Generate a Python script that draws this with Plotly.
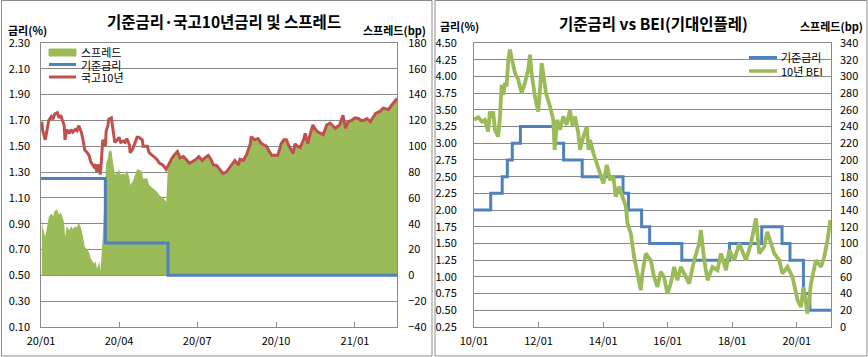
import plotly.graph_objects as go

W, H = 868, 357

# ---------------- Left chart data ----------------
ktb_dates = [
    "2020-01-02", "2020-01-03", "2020-01-06", "2020-01-08", "2020-01-10", "2020-01-13", "2020-01-15",
    "2020-01-17", "2020-01-20", "2020-01-22", "2020-01-24", "2020-01-28", "2020-01-29", "2020-01-31",
    "2020-02-03", "2020-02-05", "2020-02-07", "2020-02-10", "2020-02-12", "2020-02-14", "2020-02-17",
    "2020-02-19", "2020-02-21", "2020-02-24", "2020-02-26", "2020-02-28", "2020-03-03", "2020-03-05",
    "2020-03-06", "2020-03-09", "2020-03-10", "2020-03-11", "2020-03-12", "2020-03-13", "2020-03-16",
    "2020-03-17", "2020-03-19", "2020-03-20", "2020-03-23", "2020-03-25", "2020-03-27", "2020-03-30",
    "2020-04-01", "2020-04-03", "2020-04-06", "2020-04-08", "2020-04-10", "2020-04-13", "2020-04-14",
    "2020-04-17", "2020-04-20", "2020-04-22", "2020-04-24", "2020-04-28", "2020-04-29", "2020-05-04",
    "2020-05-06", "2020-05-11", "2020-05-15", "2020-05-18", "2020-05-22", "2020-05-26", "2020-05-28",
    "2020-06-01", "2020-06-04", "2020-06-08", "2020-06-11", "2020-06-15", "2020-06-18", "2020-06-22",
    "2020-06-25", "2020-06-30", "2020-07-03", "2020-07-07", "2020-07-10", "2020-07-14", "2020-07-17",
    "2020-07-20", "2020-07-24", "2020-07-28", "2020-07-31", "2020-08-04", "2020-08-07", "2020-08-12",
    "2020-08-14", "2020-08-18", "2020-08-20", "2020-08-24", "2020-08-28", "2020-09-01", "2020-09-02",
    "2020-09-06", "2020-09-10", "2020-09-14", "2020-09-17", "2020-09-20", "2020-09-23", "2020-09-26",
    "2020-10-03", "2020-10-07", "2020-10-10", "2020-10-13", "2020-10-17", "2020-10-21", "2020-10-23",
    "2020-10-26", "2020-10-29", "2020-11-02", "2020-11-04", "2020-11-07", "2020-11-10", "2020-11-13",
    "2020-11-16", "2020-11-19", "2020-11-25", "2020-11-29", "2020-12-03", "2020-12-06", "2020-12-09",
    "2020-12-14", "2020-12-18", "2020-12-21", "2020-12-24", "2020-12-28", "2021-01-01", "2021-01-05",
    "2021-01-08", "2021-01-11", "2021-01-15", "2021-01-19", "2021-01-22", "2021-01-25", "2021-01-30",
    "2021-02-03", "2021-02-06", "2021-02-09", "2021-02-13", "2021-02-17", "2021-02-19",
]
ktb10y = [
    1.69, 1.62, 1.55, 1.62, 1.70, 1.73, 1.71,
    1.75, 1.76, 1.72, 1.74, 1.66, 1.55, 1.63,
    1.60, 1.63, 1.61, 1.63, 1.62, 1.66, 1.61,
    1.55, 1.47, 1.45, 1.43, 1.38, 1.34, 1.36,
    1.30, 1.36, 1.28, 1.35, 1.45, 1.55, 1.50,
    1.62, 1.66, 1.71, 1.72, 1.62, 1.53, 1.55,
    1.57, 1.53, 1.54, 1.53, 1.56, 1.51, 1.45,
    1.48, 1.53, 1.57, 1.57, 1.55, 1.50, 1.50,
    1.45, 1.42, 1.40, 1.37, 1.355, 1.32, 1.35,
    1.40, 1.43, 1.46, 1.41, 1.42, 1.40, 1.37,
    1.38, 1.40, 1.42, 1.39, 1.41, 1.43, 1.40,
    1.355, 1.35, 1.32, 1.29, 1.30, 1.33, 1.37,
    1.39, 1.355, 1.40, 1.39, 1.44, 1.52, 1.575,
    1.55, 1.56, 1.52, 1.51, 1.50, 1.46, 1.43,
    1.43, 1.52, 1.55, 1.55, 1.49, 1.445, 1.52,
    1.50, 1.49, 1.55, 1.60, 1.52, 1.60, 1.665,
    1.63, 1.61, 1.59, 1.665, 1.68, 1.66, 1.64,
    1.665, 1.74, 1.64, 1.69, 1.70, 1.72, 1.715,
    1.70, 1.70, 1.715, 1.69, 1.72, 1.755, 1.77,
    1.795, 1.79, 1.785, 1.82, 1.85, 1.87,
]
base_change_dates_l = ["2020-01-01", "2020-03-16", "2020-05-28"]
base_levels_l = [1.25, 0.75, 0.50]
left_end = "2021-02-19"

# spread (bp) = 10Y yield - base rate on each date
def base_on(d, dates, levels):
    lvl = levels[0]
    for cd, lv in zip(dates, levels):
        if d >= cd:
            lvl = lv
    return lvl

spread_bp = [round((v - base_on(d, base_change_dates_l, base_levels_l)) * 100, 1)
             for d, v in zip(ktb_dates, ktb10y)]

# ---------------- Right chart data ----------------
base_change_dates_r = [
    "2010-01-01", "2010-07-09", "2010-11-16", "2011-01-13", "2011-03-10", "2011-06-10",
    "2012-07-12", "2012-10-11", "2013-05-09", "2014-08-14", "2014-10-15", "2015-03-12",
    "2015-06-11", "2016-06-09", "2017-11-30", "2018-11-30", "2019-07-18", "2019-10-16",
    "2020-03-16", "2020-05-28",
]
base_levels_r = [2.00, 2.25, 2.50, 2.75, 3.00, 3.25, 3.00, 2.75, 2.50, 2.25, 2.00, 1.75,
                 1.50, 1.25, 1.50, 1.75, 1.50, 1.25, 0.75, 0.50]
right_end = "2021-01-22"

bei_dates = [
    "2010-01-04", "2010-02-18", "2010-04-01", "2010-05-03", "2010-05-20", "2010-06-10", "2010-06-30",
    "2010-07-20", "2010-08-06", "2010-08-26", "2010-10-02", "2010-10-22", "2010-11-10", "2010-11-29",
    "2010-12-17", "2011-01-05", "2011-01-24", "2011-02-12", "2011-03-03", "2011-03-20", "2011-04-10",
    "2011-05-17", "2011-06-24", "2011-07-31", "2011-09-06", "2011-09-26", "2011-10-15", "2011-11-21",
    "2011-12-29", "2012-01-17", "2012-02-05", "2012-02-23", "2012-03-25", "2012-05-10", "2012-06-16",
    "2012-07-01", "2012-07-31", "2012-08-31", "2012-10-07", "2012-11-14", "2012-12-22", "2013-01-20",
    "2013-02-17", "2013-03-26", "2013-04-15", "2013-05-22", "2013-06-30", "2013-07-20", "2013-08-06",
    "2013-09-13", "2013-10-21", "2013-11-27", "2014-01-04", "2014-02-11", "2014-03-20", "2014-04-27",
    "2014-05-24", "2014-07-01", "2014-08-07", "2014-09-15", "2014-10-03", "2014-11-10", "2014-12-17",
    "2015-01-23", "2015-03-03", "2015-03-21", "2015-04-28", "2015-06-24", "2015-07-31", "2015-09-07",
    "2015-10-15", "2015-11-21", "2015-12-29", "2016-02-05", "2016-03-14", "2016-04-20", "2016-05-29",
    "2016-07-05", "2016-08-31", "2016-10-27", "2016-12-23", "2017-01-11", "2017-02-18", "2017-03-27",
    "2017-05-22", "2017-07-18", "2017-08-26", "2017-10-22", "2017-11-28", "2018-01-23", "2018-03-21",
    "2018-06-05", "2018-07-31", "2018-09-26", "2018-11-02", "2018-12-29", "2019-02-01", "2019-04-21",
    "2019-06-16", "2019-07-23", "2019-09-18", "2019-11-13", "2020-01-10", "2020-02-17", "2020-03-17",
    "2020-05-01", "2020-06-09", "2020-08-05", "2020-10-01", "2020-11-07", "2020-12-14", "2021-01-14",
]
bei_bp = [
    248, 251, 246, 248, 242, 234, 258,
    250, 258, 236, 228, 252, 290, 278,
    292, 288, 320, 332, 322, 312, 304,
    296, 280, 292, 308, 326, 304, 276,
    258, 284, 316, 304, 280, 264, 248,
    212, 248, 236, 252, 242, 260, 240,
    252, 232, 212, 228, 240, 212, 224,
    208, 196, 184, 172, 194, 176, 180,
    156, 168, 156, 144, 124, 112, 84,
    64, 44, 64, 88, 80, 60, 48,
    66, 60, 40, 52, 72, 56, 72,
    64, 52, 80, 100, 116, 80, 56,
    72, 68, 88, 68, 92, 80, 100,
    80, 100, 130, 88, 96, 114, 88,
    80, 64, 72, 60, 32, 24, 48,
    16, 52, 80, 72, 84, 104, 128,
]

# ---------------- styling helpers ----------------
def px(x):
    return x / W

def py(y):
    return 1 - y / H

FONT = "Malgun Gothic, Noto Sans CJK KR, sans-serif"
GRID = "#8a8a8a"
GREEN = "#9BBB59"
BLUE = "#4F81BD"
RED = "#C0504D"

fig = go.Figure()

# Left chart traces
fig.add_trace(go.Scatter(x=ktb_dates, y=spread_bp, xaxis="x", yaxis="y", mode="lines",
                         fill="tozeroy", fillcolor=GREEN, line=dict(width=0, color=GREEN),
                         name="스프레드", showlegend=False, hoverinfo="skip"))
fig.add_trace(go.Scatter(x=base_change_dates_l + [left_end], y=base_levels_l + [base_levels_l[-1]],
                         xaxis="x", yaxis="y2", mode="lines", line=dict(color=BLUE, width=3, shape="hv"),
                         name="기준금리", showlegend=False))
fig.add_trace(go.Scatter(x=ktb_dates, y=ktb10y, xaxis="x", yaxis="y2", mode="lines",
                         line=dict(color=RED, width=3), name="국고10년", showlegend=False))

# Right chart traces
fig.add_trace(go.Scatter(x=base_change_dates_r + [right_end], y=base_levels_r + [base_levels_r[-1]],
                         xaxis="x2", yaxis="y3", mode="lines", line=dict(color=BLUE, width=3, shape="hv"),
                         name="기준금리", showlegend=False))
fig.add_trace(go.Scatter(x=bei_dates, y=bei_bp, xaxis="x2", yaxis="y4", mode="lines",
                         line=dict(color=GREEN, width=3.8), name="10년 BEI", showlegend=False))

tickfont = dict(family=FONT, size=11, color="#000")
ydom = [py(327), py(43)]

fig.update_layout(
    width=W, height=H, margin=dict(l=0, r=0, t=0, b=0, autoexpand=False),
    paper_bgcolor="white", plot_bgcolor="white", showlegend=False,
    font=dict(family=FONT, color="#000"),
    xaxis=dict(domain=[px(41), px(397)], type="date", range=["2020-01-01", left_end],
               dtick="M3", tick0="2020-01-01", tickformat="%y/%m", ticks="inside", ticklen=5,
               tickcolor=GRID, showline=True, mirror=True, linecolor=GRID, showgrid=False,
               tickfont=tickfont, anchor="y", ticklabelstandoff=4, automargin=False),
    yaxis=dict(domain=ydom, range=[-40, 180], dtick=20, tick0=0, side="right", anchor="x",
               showgrid=True, gridcolor=GRID, zeroline=False, showline=True, mirror=True,
               linecolor=GRID, ticks="", tickfont=tickfont, ticklabelstandoff=8, automargin=False),
    yaxis2=dict(overlaying="y", side="left", anchor="x", range=[0.10, 2.30], dtick=0.2, tick0=0.1,
                tickformat=".2f", showgrid=False, zeroline=False, ticks="", tickfont=tickfont,
                ticklabelstandoff=10, automargin=False),
    xaxis2=dict(domain=[px(474), px(831)], type="date", range=["2010-01-01", right_end],
                dtick="M24", tick0="2010-01-01", tickformat="%y/%m", ticks="inside", ticklen=5,
                tickcolor=GRID, showline=True, mirror=True, linecolor=GRID, showgrid=False,
                tickfont=tickfont, anchor="y3", ticklabelstandoff=4, automargin=False),
    yaxis3=dict(domain=ydom, range=[0.25, 4.50], dtick=0.25, tick0=0.25, tickformat=".2f",
                side="left", anchor="x2", showgrid=True, gridcolor=GRID, zeroline=False,
                showline=True, mirror=True, linecolor=GRID, ticks="", tickfont=tickfont,
                ticklabelstandoff=14, automargin=False),
    yaxis4=dict(overlaying="y3", side="right", anchor="x2", range=[0, 340], dtick=20, tick0=0,
                showgrid=False, zeroline=False, ticks="", tickfont=tickfont, ticklabelstandoff=8,
                automargin=False),
)

shapes = [
    # panel frames
    dict(type="rect", xref="paper", yref="paper", x0=px(1.5), x1=px(432), y0=py(356), y1=py(0.5),
         line=dict(color="#8c8c8c", width=1)),
    dict(type="rect", xref="paper", yref="paper", x0=px(435), x1=px(867), y0=py(356), y1=py(0.5),
         line=dict(color="#8c8c8c", width=1)),
    # left legend swatches
    dict(type="rect", xref="paper", yref="paper", x0=px(49), x1=px(76), y0=py(56), y1=py(49),
         fillcolor=GREEN, line=dict(color=GREEN, width=1)),
    dict(type="line", xref="paper", yref="paper", x0=px(49), x1=px(76), y0=py(64.5), y1=py(64.5),
         line=dict(color=BLUE, width=3)),
    dict(type="line", xref="paper", yref="paper", x0=px(49), x1=px(76), y0=py(77), y1=py(77),
         line=dict(color=RED, width=3)),
    # right legend swatches
    dict(type="line", xref="paper", yref="paper", x0=px(749), x1=px(777), y0=py(57.5), y1=py(57.5),
         line=dict(color=BLUE, width=3)),
    dict(type="line", xref="paper", yref="paper", x0=px(749), x1=px(777), y0=py(71), y1=py(71),
         line=dict(color=GREEN, width=3.5)),
]
fig.update_layout(shapes=shapes)

def ann(text, x, y, size, xanchor="center", bold=False):
    t = f"<b>{text}</b>" if bold else text
    return dict(text=t, xref="paper", yref="paper", x=px(x), y=py(y), xanchor=xanchor,
                yanchor="middle", showarrow=False, font=dict(family=FONT, size=size, color="#000"))

annotations = [
    ann("기준금리·국고10년금리 및 스프레드", 224, 21, 15.5, bold=True),
    ann("기준금리 vs BEI(기대인플레)", 653, 23.5, 15.5, bold=True),
    ann("금리(%)", 6, 30, 11, xanchor="left", bold=True),
    ann("스프레드(bp)", 428, 30, 11, xanchor="right", bold=True),
    ann("금리(%)", 438, 26.5, 11, xanchor="left", bold=True),
    ann("스프레드(bp)", 865, 26.5, 11, xanchor="right", bold=True),
    ann("스프레드", 79, 52, 11, xanchor="left"),
    ann("기준금리", 79, 64.5, 11, xanchor="left"),
    ann("국고10년", 79, 77, 11, xanchor="left"),
    ann("기준금리", 779, 57.5, 11, xanchor="left"),
    ann("10년 BEI", 779, 71, 11, xanchor="left"),
]
fig.update_layout(annotations=annotations)

fig.write_html("out.html", config={"displayModeBar": False},
               post_script="document.body.style.margin='0';document.body.style.overflow='hidden';")
